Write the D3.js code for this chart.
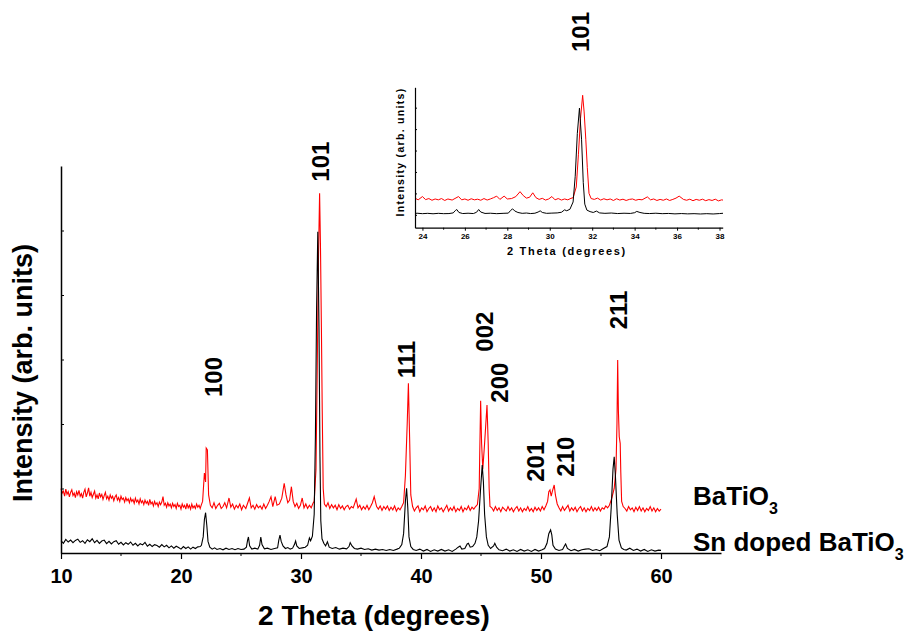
<!DOCTYPE html>
<html>
<head>
<meta charset="utf-8">
<script src="https://cdn.jsdelivr.net/npm/d3@7"></script>
<style>
body{margin:0;background:#fff;}
text{font-family:"Liberation Sans",Arial,sans-serif;font-weight:bold;fill:#000;}
</style>
</head>
<body>
<script>
// Sn doped BaTiO3 pattern (black), [2theta, intensity]
var snPattern = [
 [10.0,190],[10.2,150],[10.4,210],[10.6,170],[10.8,200],[11.0,160],[11.2,195],[11.4,215],[11.6,165],[11.8,190],
 [12.0,150],[12.2,205],[12.4,175],[12.6,220],[12.8,160],[13.0,195],[13.2,150],[13.4,185],[13.6,200],[13.8,145],
 [14.0,180],[14.2,140],[14.4,175],[14.6,190],[14.8,135],[15.0,165],[15.2,125],[15.4,160],[15.6,135],[15.8,170],
 [16.0,120],[16.2,150],[16.4,110],[16.6,145],[16.8,125],[17.0,165],[17.2,105],[17.4,135],[17.6,100],[17.8,130],
 [18.0,115],[18.2,90],[18.4,130],[18.6,95],[18.8,120],[19.0,80],[19.2,110],[19.4,75],[19.6,105],[19.8,85],
 [20.0,60],[20.2,100],[20.4,70],[20.6,95],[20.8,60],[21.0,90],[21.2,70],[21.4,95],[21.6,100],[21.7,120],
 [21.85,250],[21.95,520],[22.05,625],[22.15,430],[22.25,180],[22.4,90],[22.6,60],[22.8,80],[23.0,55],[23.25,70],
 [23.5,50],[23.75,75],[24.0,55],[24.25,70],[24.5,50],[24.75,70],[25.0,55],[25.25,60],[25.45,90],[25.55,200],
 [25.62,248],[25.72,110],[25.9,60],[26.15,75],[26.4,60],[26.55,120],[26.65,248],[26.75,130],[26.95,65],[27.2,75],
 [27.5,55],[27.8,70],[28.05,80],[28.15,200],[28.25,279],[28.35,180],[28.5,110],[28.7,70],[28.9,85],[29.1,60],
 [29.3,75],[29.45,130],[29.55,186],[29.65,110],[29.85,70],[30.1,80],[30.35,90],[30.55,120],[30.7,233],[30.8,190],
 [30.95,260],[31.1,600],[31.2,1800],[31.3,3800],[31.4,4981],[31.5,3500],[31.58,1500],[31.65,500],[31.75,220],[31.9,150],
 [32.05,110],[32.2,175],[32.35,90],[32.6,70],[32.9,85],[33.2,60],[33.5,75],[33.8,65],[34.0,100],[34.1,160],
 [34.25,110],[34.45,70],[34.7,60],[35.0,75],[35.3,55],[35.6,65],[35.9,45],[36.2,60],[36.5,45],[36.8,55],
 [37.1,40],[37.4,55],[37.7,40],[38.0,60],[38.2,75],[38.4,130],[38.55,300],[38.7,800],[38.8,1003],[38.9,700],
 [39.0,250],[39.15,100],[39.35,55],[39.6,40],[39.9,60],[40.2,30],[40.5,55],[40.8,25],[41.1,50],[41.4,30],
 [41.7,55],[42.0,30],[42.3,50],[42.6,25],[42.9,60],[43.1,90],[43.25,109],[43.4,60],[43.65,70],[43.85,140],
 [43.95,150],[44.1,90],[44.3,100],[44.5,150],[44.65,250],[44.8,500],[44.95,950],[45.1,1364],[45.2,1100],[45.3,600],
 [45.45,250],[45.6,120],[45.8,70],[46.05,110],[46.15,150],[46.3,90],[46.5,50],[46.8,35],[47.1,60],[47.4,30],
 [47.7,50],[48.0,25],[48.3,55],[48.6,30],[48.9,50],[49.2,25],[49.5,55],[49.8,30],[50.1,50],[50.3,70],
 [50.5,150],[50.65,300],[50.8,357],[50.9,280],[51.0,120],[51.2,60],[51.5,40],[51.8,55],[51.95,110],[52.05,140],
 [52.2,70],[52.5,35],[52.8,55],[53.1,30],[53.4,50],[53.7,60],[54.0,65],[54.3,40],[54.6,55],[54.9,35],
 [55.2,70],[55.5,100],[55.7,250],[55.85,700],[56.0,1300],[56.1,1493],[56.2,1200],[56.35,600],[56.5,200],[56.7,80],
 [56.9,55],[57.1,45],[57.4,75],[57.7,40],[58.0,60],[58.3,30],[58.6,55],[58.9,25],[59.2,50],[59.5,30],
 [59.8,45],[60.0,40]
];

// BaTiO3 pattern (red), [2theta, intensity]
var btoPattern = [
 [10.0,1000],[10.1,930],[10.2,960],[10.3,880],[10.4,990],[10.5,910],[10.6,950],[10.7,870],[10.8,940],[10.9,980],
 [11.0,890],[11.1,930],[11.2,860],[11.3,950],[11.4,900],[11.5,970],[11.6,880],[11.7,920],[11.8,850],[11.9,940],
 [12.0,990],[12.1,870],[12.2,930],[12.3,1010],[12.4,880],[12.5,940],[12.6,860],[12.7,910],[12.8,960],[12.9,850],
 [13.0,900],[13.1,840],[13.2,930],[13.3,870],[13.4,910],[13.5,830],[13.6,890],[13.7,940],[13.8,840],[13.9,880],
 [14.0,820],[14.1,900],[14.2,850],[14.3,880],[14.4,810],[14.5,870],[14.6,900],[14.7,820],[14.8,860],[14.9,800],
 [15.0,880],[15.1,830],[15.2,850],[15.3,790],[15.4,860],[15.5,810],[15.6,840],[15.7,780],[15.8,850],[15.9,800],
 [16.0,830],[16.1,770],[16.2,850],[16.3,790],[16.4,820],[16.5,760],[16.6,840],[16.7,780],[16.8,810],[16.9,750],
 [17.0,820],[17.1,770],[17.2,800],[17.3,740],[17.4,830],[17.5,760],[17.6,790],[17.7,730],[17.8,800],[17.9,750],
 [18.0,780],[18.1,720],[18.2,790],[18.3,750],[18.4,790],[18.5,873],[18.6,740],[18.7,770],[18.8,710],[18.9,780],
 [19.0,730],[19.1,760],[19.2,700],[19.3,770],[19.4,720],[19.5,750],[19.6,690],[19.7,770],[19.8,720],[19.9,740],
 [20.0,680],[20.1,760],[20.2,710],[20.3,740],[20.4,680],[20.5,770],[20.6,700],[20.7,740],[20.8,680],[20.9,760],
 [21.0,700],[21.1,730],[21.2,690],[21.3,760],[21.4,710],[21.5,740],[21.6,690],[21.7,750],[21.8,800],[21.95,1240],
 [22.05,1100],[22.1,1628],[22.2,1600],[22.3,900],[22.45,740],[22.6,700],[22.75,780],[22.9,690],[23.05,740],[23.2,770],
 [23.35,690],[23.5,720],[23.65,780],[23.8,700],[24.0,853],[24.15,710],[24.3,760],[24.45,680],[24.6,740],[24.75,700],
 [24.9,760],[25.05,670],[25.2,740],[25.4,690],[25.7,853],[25.85,700],[26.0,740],[26.15,680],[26.3,750],[26.45,700],
 [26.6,730],[26.75,680],[26.9,760],[27.05,690],[27.2,740],[27.35,800],[27.5,873],[27.65,720],[27.85,873],[28.0,740],
 [28.2,760],[28.4,850],[28.6,1081],[28.75,900],[28.9,780],[29.05,820],[29.2,1028],[29.35,800],[29.5,720],[29.65,770],
 [29.8,690],[29.95,740],[30.1,853],[30.25,700],[30.4,760],[30.55,690],[30.7,740],[30.85,700],[31.0,770],[31.1,800],
 [31.25,1300],[31.35,2800],[31.45,4500],[31.55,5577],[31.62,4800],[31.7,3500],[31.77,2200],[31.85,1000],[31.95,760],[32.1,720],
 [32.25,780],[32.4,690],[32.55,750],[32.7,700],[32.85,740],[33.0,670],[33.15,750],[33.3,690],[33.45,730],[33.6,670],
 [33.75,720],[33.9,740],[34.05,680],[34.2,720],[34.35,700],[34.6,837],[34.75,700],[34.9,740],[35.05,670],[35.2,720],
 [35.35,680],[35.5,740],[35.65,670],[35.8,720],[35.95,780],[36.1,873],[36.3,720],[36.45,680],[36.6,730],[36.75,660],
 [36.9,720],[37.05,680],[37.2,730],[37.35,660],[37.5,710],[37.65,670],[37.8,730],[37.95,650],[38.1,700],[38.25,670],
 [38.4,720],[38.55,780],[38.7,1200],[38.85,2000],[38.95,2631],[39.05,1800],[39.15,900],[39.3,720],[39.45,650],[39.6,700],
 [39.75,730],[39.9,640],[40.05,700],[40.2,670],[40.35,730],[40.5,640],[40.65,690],[40.8,720],[40.95,650],[41.1,700],
 [41.25,640],[41.4,730],[41.55,670],[41.7,700],[41.85,640],[42.0,690],[42.15,740],[42.3,650],[42.45,700],[42.6,660],
 [42.75,720],[42.9,640],[43.05,690],[43.2,660],[43.35,720],[43.5,640],[43.65,700],[43.8,670],[43.95,730],[44.1,660],
 [44.25,710],[44.4,680],[44.55,720],[44.7,750],[44.85,1000],[44.9,1600],[44.97,2361],[45.05,1700],[45.15,1300],[45.3,1700],
 [45.5,2295],[45.6,1700],[45.68,1000],[45.75,720],[45.9,700],[46.05,650],[46.2,720],[46.35,660],[46.5,700],[46.65,640],
 [46.8,710],[46.95,680],[47.1,650],[47.25,720],[47.4,660],[47.55,700],[47.7,640],[47.85,690],[48.0,720],[48.15,650],
 [48.3,700],[48.45,640],[48.6,690],[48.75,660],[48.9,720],[49.05,650],[49.2,690],[49.35,640],[49.5,710],[49.65,660],
 [49.8,700],[49.95,650],[50.1,720],[50.25,670],[50.4,730],[50.55,800],[50.65,950],[50.75,977],[50.85,880],[50.95,960],
 [51.1,1054],[51.2,900],[51.35,760],[51.5,700],[51.65,650],[51.8,720],[51.95,660],[52.1,700],[52.25,740],[52.4,650],
 [52.55,700],[52.7,660],[52.85,710],[53.0,640],[53.15,690],[53.3,720],[53.45,650],[53.6,700],[53.75,640],[53.9,690],
 [54.05,660],[54.2,720],[54.35,650],[54.5,700],[54.65,660],[54.8,710],[54.95,650],[55.1,700],[55.25,680],[55.4,730],
 [55.55,700],[55.7,740],[55.9,850],[56.1,1000],[56.25,1300],[56.33,2000],[56.39,2992],[56.45,2200],[56.52,1803],[56.6,1700],
 [56.65,1250],[56.72,800],[56.85,720],[57.0,690],[57.15,650],[57.3,720],[57.45,670],[57.6,700],[57.75,640],[57.9,710],
 [58.05,660],[58.2,720],[58.35,650],[58.5,700],[58.65,640],[58.8,690],[58.95,660],[59.1,720],[59.25,650],[59.4,700],
 [59.55,640],[59.7,690],[59.85,650],[60.0,680]
];

// reflection labels: hkl, 2theta of the label, intensity level of its lower end
var hklNames = ["100", "101", "111", "002", "200", "201", "210", "211"];
var hklTheta = [22.69, 31.64, 38.81, 45.33, 46.58, 49.5, 52.0, 56.44];
var hklLevel = [2419, 5757, 2709, 3121, 2330, 1105, 1183, 3468];

var xTicks = [10, 20, 30, 40, 50, 60];
var xMinor = [15, 25, 35, 45, 55];
var yTicks = [1000, 2000, 3000, 4000, 5000];
var insetXTicks = [24, 26, 28, 30, 32, 34, 36, 38];
var insetXMinor = [25, 27, 29, 31, 33, 35, 37];
var insetYTicks = [0, 1000, 2000, 3000, 4000, 5000];

var width = 917, height = 634;

var svg = d3.select("body").append("svg")
    .attr("width", width)
    .attr("height", height);

// main plot scales
var x = d3.scaleLinear().domain([10, 65]).range([61, 721]);
var y = d3.scaleLinear().domain([0, 6000]).range([553, 166]);

var line = d3.line()
    .x(function(d){ return x(d[0]); })
    .y(function(d){ return y(d[1]); });

svg.append("path").datum(btoPattern)
    .attr("d", line).attr("fill", "none")
    .attr("stroke", "#ff0000").attr("stroke-width", 1.1);

svg.append("path").datum(snPattern)
    .attr("d", line).attr("fill", "none")
    .attr("stroke", "#000").attr("stroke-width", 1.1);

// axes
var xAxis = svg.append("g").attr("transform", "translate(0," + y(0) + ")")
    .call(d3.axisBottom(x).tickValues(xTicks).tickSize(6).tickSizeOuter(0).tickPadding(10));
xAxis.select(".domain").attr("stroke-width", 1.5);
xAxis.selectAll(".tick line").attr("stroke-width", 1.2);
xAxis.selectAll("text").style("font-size", "20px");

svg.append("g").selectAll("line").data(xMinor).enter().append("line")
    .attr("x1", function(d){ return x(d); }).attr("x2", function(d){ return x(d); })
    .attr("y1", y(0)).attr("y2", y(0) + 3)
    .attr("stroke", "#000").attr("stroke-width", 1);

var yAxis = svg.append("g").attr("transform", "translate(" + x(10) + ",0)")
    .call(d3.axisRight(y).tickValues(yTicks).tickSize(3).tickSizeOuter(0).tickFormat(""));
yAxis.select(".domain").attr("stroke-width", 1.5);

svg.append("text")
    .attr("x", 374).attr("y", 625)
    .attr("text-anchor", "middle")
    .style("font-size", "28px")
    .text("2 Theta (degrees)");

svg.append("text")
    .attr("transform", "translate(32,373) rotate(-90)")
    .attr("text-anchor", "middle")
    .style("font-size", "27px")
    .text("Intensity (arb. units)");

// hkl labels
hklNames.forEach(function(name, i){
    var px = x(hklTheta[i]) + 8.5, py = y(hklLevel[i]);
    svg.append("text")
        .attr("transform", "translate(" + px + "," + py + ") rotate(-90)")
        .style("font-size", "24px")
        .text(name);
});

// legend labels
var leg1 = svg.append("text").attr("x", 693).attr("y", 505).style("font-size", "26px");
leg1.append("tspan").text("BaTiO");
leg1.append("tspan").attr("dy", 9).style("font-size", "16px").text("3");

var leg2 = svg.append("text").attr("x", 693).attr("y", 551).style("font-size", "26px");
leg2.append("tspan").text("Sn doped BaTiO");
leg2.append("tspan").attr("dy", 9).style("font-size", "16px").text("3");

// inset
var ix = d3.scaleLinear().domain([23.65, 38.15]).range([415, 722.7]);
var iy = d3.scaleLinear().domain([-600, 5950]).range([227.7, 87.3]);

svg.append("clipPath").attr("id", "insetClip")
    .append("rect").attr("x", 415).attr("y", 80).attr("width", 308).attr("height", 148);

var iline = d3.line()
    .x(function(d){ return ix(d[0]); })
    .y(function(d){ return iy(d[1]); });

var inWindow = function(d){ return d[0] >= 23.4 && d[0] <= 38.4; };

svg.append("path").datum(btoPattern.filter(inWindow))
    .attr("d", iline).attr("fill", "none").attr("clip-path", "url(#insetClip)")
    .attr("stroke", "#ff0000").attr("stroke-width", 1);

svg.append("path").datum(snPattern.filter(inWindow))
    .attr("d", iline).attr("fill", "none").attr("clip-path", "url(#insetClip)")
    .attr("stroke", "#000").attr("stroke-width", 1);

var ixAxis = svg.append("g").attr("transform", "translate(0," + iy(-600) + ")")
    .call(d3.axisBottom(ix).tickValues(insetXTicks).tickSize(3).tickSizeOuter(0).tickPadding(3));
ixAxis.selectAll("text").style("font-size", "8px");
ixAxis.select(".domain").attr("stroke-width", 1.2);

svg.append("g").selectAll("line").data(insetXMinor).enter().append("line")
    .attr("x1", function(d){ return ix(d); }).attr("x2", function(d){ return ix(d); })
    .attr("y1", iy(-600)).attr("y2", iy(-600) + 2)
    .attr("stroke", "#000").attr("stroke-width", 1);

var iyAxis = svg.append("g").attr("transform", "translate(" + ix(23.65) + ",0)")
    .call(d3.axisRight(iy).tickValues(insetYTicks).tickSize(2).tickSizeOuter(0).tickFormat(""));
iyAxis.select(".domain").attr("stroke-width", 1.2);

svg.append("text")
    .attr("x", 567).attr("y", 255)
    .attr("text-anchor", "middle")
    .style("font-size", "11px").style("letter-spacing", "1.7px")
    .text("2 Theta (degrees)");

svg.append("text")
    .attr("transform", "translate(404,152) rotate(-90)")
    .attr("text-anchor", "middle")
    .style("font-size", "10.5px").style("letter-spacing", "1.3px")
    .text("Intensity (arb. units)");

svg.append("text")
    .attr("transform", "translate(" + (ix(31.45) + 8.5) + ",52) rotate(-90)")
    .style("font-size", "24px")
    .text("101");
</script>
</body>
</html>
